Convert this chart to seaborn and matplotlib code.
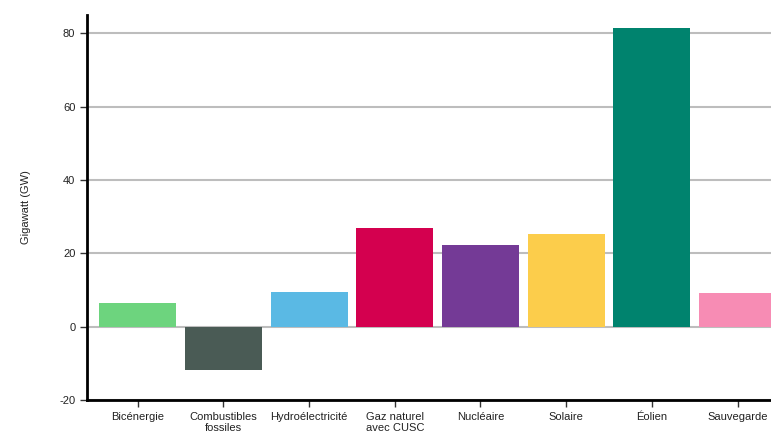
import matplotlib
matplotlib.use('Agg')
import matplotlib.pyplot as plt
import seaborn as sns
import pandas as pd

# Données
categories = ['Bicénergie', 'Combustibles\nfossiles', 'Hydroélectricité', 'Gaz naturel\navec CUSC',
              'Nucléaire', 'Solaire', 'Éolien', 'Sauvegarde']
valeurs = [6.5, -11.7, 9.5, 27.0, 22.3, 25.3, 81.6, 9.3]
couleurs = ['#6dd47e', '#4a5b55', '#5ab9e4', '#d4004f', '#743a96', '#fccd4b', '#00836e', '#f78cb4']

df = pd.DataFrame({'categorie': categories, 'valeur': valeurs})

sns.set_style('white')
plt.rcParams['font.family'] = ['Liberation Sans', 'DejaVu Sans']
plt.rcParams['axes.unicode_minus'] = False

fig = plt.figure(figsize=(7.71, 4.43), dpi=100)
ax = fig.add_axes([0.113, 0.097, 0.887, 0.869])

sns.barplot(data=df, x='categorie', y='valeur', hue='categorie', palette=couleurs,
            width=0.9, saturation=1, linewidth=0, legend=False, ax=ax, zorder=3)

ax.set_ylim(-20, 85)
ax.set_xlim(-0.59, 7.39)
ax.set_yticks([-20, 0, 20, 40, 60, 80])
ax.yaxis.grid(True, color='#bdbdbd', linewidth=1.5, zorder=0)
ax.set_axisbelow(True)

for s in ['top', 'right']:
    ax.spines[s].set_visible(False)
for s in ['left', 'bottom']:
    ax.spines[s].set_linewidth(2)
    ax.spines[s].set_color('black')

ax.tick_params(axis='both', which='both', direction='out', length=5, width=1,
               color='#333333', labelsize=8, labelcolor='#222222', bottom=True, left=True)
ax.set_xlabel('')
ax.set_ylabel('Gigawatt (GW)', fontsize=8, color='#222222', labelpad=20)

fig.savefig('out.png', dpi=100)
